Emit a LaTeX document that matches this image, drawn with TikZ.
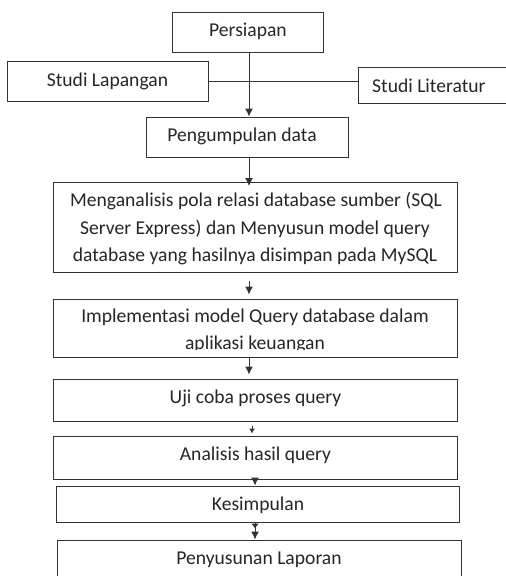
\documentclass[tikz,border=0pt]{standalone}
\usepackage{fontspec}
\setmainfont{Carlito}
\usetikzlibrary{arrows.meta}
\begin{document}
\begin{tikzpicture}[x=1pt,y=-1pt,
  box/.style={draw=black!80, line width=1pt, rectangle, inner sep=0pt},
  txt/.style={inner sep=0pt, anchor=base, text=black!85, font=\fontsize{19.6}{27.5}\selectfont},
  conn/.style={draw=black!80, line width=1pt},
  tip/.style={-{Latex[length=8pt,width=8pt]}},
  smalltip/.style={-{Latex[length=5pt,width=6pt]}}]
\clip (0,0) rectangle (506,576);
\fill[white] (0,0) rectangle (506,576);
% boxes
\node[box, minimum width=151pt, minimum height=40pt] (persiapan) at (248,32) {};
\node[box, minimum width=201pt, minimum height=40pt] (lapangan) at (107.5,81) {};
\node[box, minimum width=162pt, minimum height=36pt] (literatur) at (439,85) {};
\node[box, minimum width=202pt, minimum height=40pt] (pengumpulan) at (247,137) {};
\node[box, minimum width=404pt, minimum height=90pt] (analisa) at (255,227) {};
\node[box, minimum width=404pt, minimum height=58pt] (impl) at (255,328) {};
\node[box, minimum width=404pt, minimum height=42pt] (uji) at (255,400) {};
\node[box, minimum width=404pt, minimum height=43pt] (analisis) at (255,457.5) {};
\node[box, minimum width=403pt, minimum height=36pt] (kesimpulan) at (257.5,504) {};
\node[box, minimum width=404pt, minimum height=50pt] (laporan) at (259,565) {};
% texts
\node[txt] (tpersiapan) at (248,36) {Persiapan};
\node[txt] (tlapangan) at (107.5,86) {Studi Lapangan};
\node[txt, anchor=base west] (tliteratur) at (372,92.5) {Studi Literatur};
\node[txt] (tpengumpulan) at (242,141.5) {Pengumpulan data};
\node[txt] (tanalisa1) at (256,206.5) {Menganalisis pola relasi database sumber (SQL};
\node[txt] (tanalisa2) at (255,234.5) {Server Express) dan Menyusun model query};
\node[txt] (tanalisa3) at (255,261.5) {database yang hasilnya disimpan pada MySQL};
\node[txt] (timpl1) at (255,322) {Implementasi model Query database dalam};
\begin{scope}
  \clip (53,300) rectangle (457,349.5);
  \node[txt] (timpl2) at (255,349) {aplikasi keuangan};
\end{scope}
\node[txt] (tuji) at (255.5,403.5) {Uji coba proses query};
\node[txt] (tanalisis) at (255.5,460) {Analisis hasil query};
\node[txt] (tkesimpulan) at (258,510.5) {Kesimpulan};
\node[txt] (tlaporan) at (259,564) {Penyusunan Laporan};
% connectors
\draw[conn] (lapangan.east) -- (lapangan.east -| literatur.west);
\draw[conn,tip] ([xshift=1pt]persiapan.south) -- ([xshift=1pt]persiapan.south |- pengumpulan.north);
\draw[conn,tip,shorten >=-0.5pt] ([xshift=2pt]pengumpulan.south) -- ([xshift=2pt,yshift=-4pt]pengumpulan.south |- analisa.north);
\draw[conn,tip,shorten <=8pt,shorten >=4pt] ([xshift=2pt]analisa.south -| pengumpulan.south) -- ([xshift=2pt]impl.north -| pengumpulan.south);
\draw[conn,tip,shorten >=4pt] ([xshift=2pt]impl.south -| pengumpulan.south) -- ([xshift=2pt]uji.north -| pengumpulan.south);
\draw[conn,smalltip,shorten <=4pt,shorten >=2pt] ([xshift=-3pt]uji.south) -- ([xshift=-3pt]uji.south |- analisis.north);
\draw[conn,tip,shorten <=-4pt] (analisis.south) -- (analisis.south |- kesimpulan.north);
\draw[conn,-{Latex[length=5pt,width=8pt,sep=3pt]Latex[length=8pt,width=8pt]}] ([xshift=-2.5pt]kesimpulan.south) -- ([xshift=-2.5pt]kesimpulan.south |- laporan.north);
\end{tikzpicture}
\end{document}
